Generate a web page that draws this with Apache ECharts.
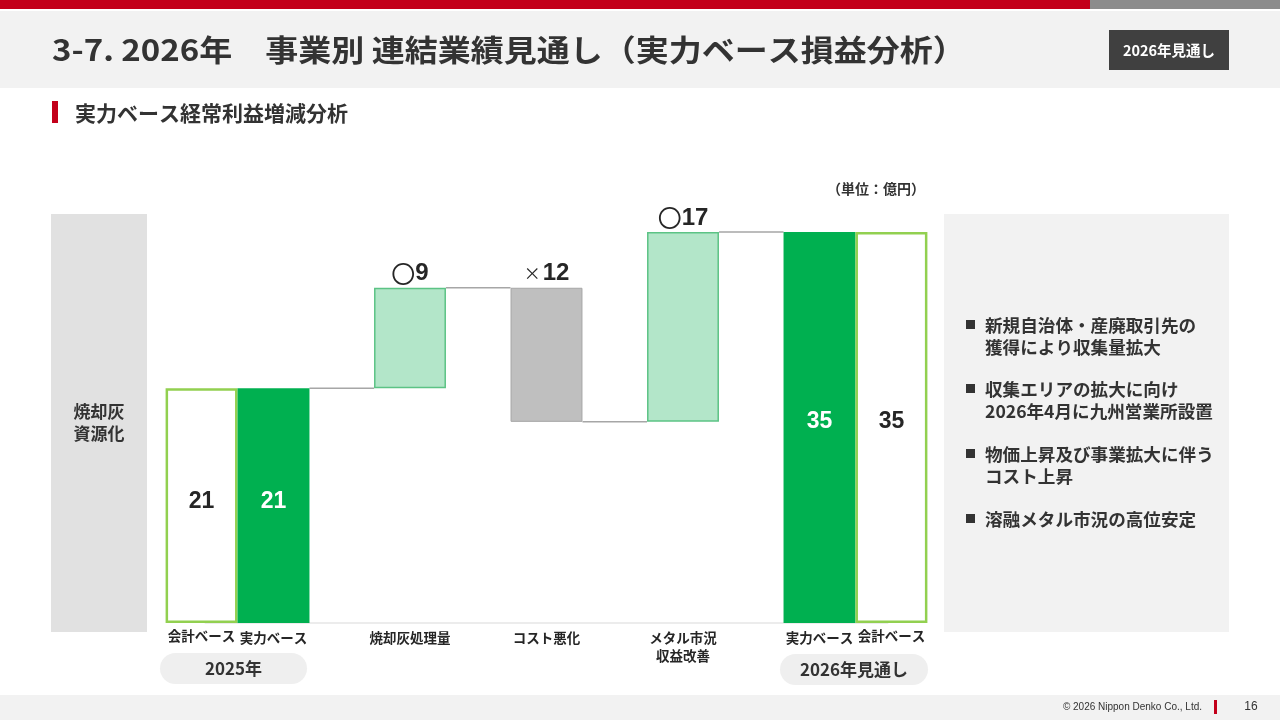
<!DOCTYPE html>
<html>
<head>
<meta charset="utf-8">
<script src="https://cdn.jsdelivr.net/npm/echarts@6/dist/echarts.min.js"></script>
<style>
html,body{margin:0;padding:0;background:#fff;}
#chart{width:1280px;height:720px;}
</style>
</head>
<body>
<div id="chart"></div>
<script>
// ---- data ----
const categories = ['実力ベース', '焼却灰処理量', 'コスト悪化', 'メタル市況\n収益改善', '実力ベース'];
const accountingLabel = '会計ベース';
const accounting2025 = 21;
const actual2025 = 21;
const deltas = [9, -12, 17];
const deltaMarks = ['〇', '×', '〇'];
const actual2026 = 35;
const accounting2026 = 35;
const periodLabels = ['2025年', '2026年見通し'];
const segmentLabel = '焼却灰\n資源化';
const unitLabel = '（単位：億円）';
const bullets = [
  '新規自治体・産廃取引先の\n獲得により収集量拡大',
  '収集エリアの拡大に向け\n2026年4月に九州営業所設置',
  '物価上昇及び事業拡大に伴う\nコスト上昇',
  '溶融メタル市況の高位安定'
];
const titleText = '3-7. 2026年　事業別 連結業績見通し（実力ベース損益分析）';
const subtitleText = '実力ベース経常利益増減分析';
const badgeText = '2026年見通し';
const footerText = '© 2026 Nippon Denko Co., Ltd.';
const pageNo = '16';

// ---- build waterfall items ----
const FONT = '"Liberation Sans", "Noto Sans CJK JP", sans-serif';
const JFONT = '"Noto Sans CJK JP", "Liberation Sans", sans-serif';
const barItems = [];
barItems.push({cat: 0, lo: 0, hi: accounting2025, kind: 'acct', side: -1, value: accounting2025});
barItems.push({cat: 0, lo: 0, hi: actual2025, kind: 'total', side: 0, value: actual2025});
const levels = [actual2025];
let run = actual2025;
deltas.forEach((d, k) => {
  const next = run + d;
  barItems.push({cat: k + 1, lo: Math.min(run, next), hi: Math.max(run, next), kind: d >= 0 ? 'up' : 'down', side: 0, value: Math.abs(d), mark: deltaMarks[k]});
  run = next;
  levels.push(run);
});
barItems.push({cat: 4, lo: 0, hi: actual2026, kind: 'total', side: 0, value: actual2026});
barItems.push({cat: 4, lo: 0, hi: accounting2026, kind: 'acct', side: 1, value: accounting2026});

const BAR_RATIO = 0.527;
const styles = {
  acct:  {fill: '#ffffff', stroke: '#92d050', lineWidth: 2.5, text: '#262626'},
  total: {fill: '#00b050', stroke: null, lineWidth: 0, text: '#ffffff'},
  up:    {fill: '#b3e6c9', stroke: '#5cc385', lineWidth: 1.5, text: '#262626'},
  down:  {fill: '#bfbfbf', stroke: '#a6a6a6', lineWidth: 1, text: '#262626'}
};

function renderBar(params, api) {
  const it = barItems[params.dataIndex];
  const step = api.size([1, 0])[0];
  const bw = step * BAR_RATIO;
  const pLo = api.coord([api.value(0), api.value(1)]);
  const pHi = api.coord([api.value(0), api.value(2)]);
  const cx = pLo[0] + it.side * bw;
  const x = cx - bw / 2;
  const st = styles[it.kind];
  const children = [];
  const inset = st.stroke ? st.lineWidth / 2 : 0;
  children.push({
    type: 'rect',
    shape: {x: x + inset, y: pHi[1] + inset, width: bw - 2 * inset, height: pLo[1] - pHi[1] - 2 * inset},
    style: {fill: st.fill, stroke: st.stroke || 'none', lineWidth: st.lineWidth}
  });
  if (it.kind === 'acct' || it.kind === 'total') {
    children.push({
      type: 'text',
      style: {x: cx, y: pLo[1] - 0.515 * (pLo[1] - pHi[1]), text: String(it.value), fill: st.text, font: 'bold 23px ' + FONT, align: 'center', verticalAlign: 'middle'}
    });
  } else {
    const isCircle = it.mark === '〇';
    children.push({
      type: 'text',
      style: {
        x: cx, y: pHi[1] - 2, align: 'center', verticalAlign: 'bottom',
        text: '{m|' + it.mark + '}{n|' + it.value + '}',
        rich: {
          m: {fontFamily: JFONT, fontWeight: 'normal', fontSize: isCircle ? 24 : 17, fill: '#262626', padding: [0, isCircle ? 0 : 2, isCircle ? 0 : 1, 0]},
          n: {fontFamily: FONT, fontWeight: 'bold', fontSize: 24, fill: '#262626'}
        }
      }
    });
  }
  if (it.kind === 'acct') {
    children.push({
      type: 'text',
      style: {x: cx, y: pLo[1] + 6, text: accountingLabel, fill: '#262626', font: 'bold 13.5px ' + JFONT, align: 'center', verticalAlign: 'top'}
    });
  }
  return {type: 'group', children: children};
}

const connectorData = levels.map((v, i) => [i, v]);
function renderConnector(params, api) {
  const i = api.value(0), v = api.value(1);
  const step = api.size([1, 0])[0];
  const bw = step * BAR_RATIO;
  const a = api.coord([i, v]);
  const b = api.coord([i + 1, v]);
  return {
    type: 'line',
    shape: {x1: a[0] + bw / 2, y1: a[1], x2: b[0] - bw / 2, y2: b[1]},
    style: {stroke: '#a6a6a6', lineWidth: 1.5}
  };
}

// ---- decorations ----
const graphics = [
  {type: 'rect', shape: {x: 0, y: 0, width: 1090, height: 9}, style: {fill: '#c3001a'}},
  {type: 'rect', shape: {x: 1090, y: 0, width: 190, height: 9}, style: {fill: '#8c8c8c'}},
  {type: 'rect', shape: {x: 0, y: 11, width: 1280, height: 77}, style: {fill: '#f2f2f2'}},
  {type: 'text', x: 52, y: 50, scaleX: 1.1, style: {x: 0, y: 0, text: titleText, fill: '#333333', font: 'bold 30px ' + JFONT, verticalAlign: 'middle'}},
  {type: 'rect', shape: {x: 1109, y: 30, width: 120, height: 40}, style: {fill: '#404040'}},
  {type: 'text', style: {x: 1169, y: 50, text: badgeText, fill: '#ffffff', font: 'bold 14.5px ' + JFONT, align: 'center', verticalAlign: 'middle'}},
  {type: 'rect', shape: {x: 52, y: 101, width: 6, height: 22}, style: {fill: '#c3001a'}},
  {type: 'text', style: {x: 75, y: 113, text: subtitleText, fill: '#333333', font: 'bold 21px ' + JFONT, verticalAlign: 'middle'}},
  {type: 'rect', shape: {x: 51, y: 214, width: 96, height: 418}, style: {fill: '#e1e1e1'}, z: -10},
  {type: 'text', style: {x: 99, y: 423, text: segmentLabel, fill: '#333333', font: 'bold 17px ' + JFONT, lineHeight: 22, align: 'center', verticalAlign: 'middle'}},
  {type: 'rect', shape: {x: 944, y: 214, width: 285, height: 418}, style: {fill: '#f2f2f2'}, z: -10},
  {type: 'text', style: {x: 925, y: 189, text: unitLabel, fill: '#333333', font: 'bold 14px ' + JFONT, align: 'right', verticalAlign: 'middle'}},
  {type: 'rect', shape: {x: 160, y: 653, width: 147, height: 31, r: 15.5}, style: {fill: '#efefef'}},
  {type: 'text', style: {x: 233.5, y: 668.5, text: periodLabels[0], fill: '#333333', font: 'bold 17px ' + JFONT, align: 'center', verticalAlign: 'middle'}},
  {type: 'rect', shape: {x: 780, y: 654, width: 148, height: 31, r: 15.5}, style: {fill: '#efefef'}},
  {type: 'text', style: {x: 854, y: 669.5, text: periodLabels[1], fill: '#333333', font: 'bold 17px ' + JFONT, align: 'center', verticalAlign: 'middle'}},
  {type: 'rect', shape: {x: 0, y: 695, width: 1280, height: 25}, style: {fill: '#f2f2f2'}},
  {type: 'text', style: {x: 1202, y: 707, text: footerText, fill: '#333333', font: '10px ' + FONT, align: 'right', verticalAlign: 'middle'}},
  {type: 'rect', shape: {x: 1214, y: 700, width: 3, height: 14}, style: {fill: '#c3001a'}},
  {type: 'text', style: {x: 1251, y: 707, text: pageNo, fill: '#333333', font: '12px ' + FONT, align: 'center', verticalAlign: 'middle'}}
];
const bulletTops = [314, 378, 443, 508];
bullets.forEach((b, i) => {
  graphics.push({type: 'rect', shape: {x: 966, y: bulletTops[i] + 6, width: 9, height: 9}, style: {fill: '#333333'}});
  graphics.push({type: 'text', style: {x: 985, y: bulletTops[i], text: b, fill: '#333333', font: 'bold 17.6px ' + JFONT, lineHeight: 22, verticalAlign: 'top'}});
});

const chart = echarts.init(document.getElementById('chart'));
chart.setOption({
  backgroundColor: '#ffffff',
  animation: false,
  grid: {left: 205.25, right: 392.25, top: 176, bottom: 97},
  xAxis: {
    type: 'category',
    data: categories,
    axisTick: {show: false},
    axisLine: {lineStyle: {color: '#e6e6e6', width: 1.5}},
    axisLabel: {color: '#262626', fontWeight: 'bold', fontSize: 13.5, fontFamily: JFONT, margin: 6, lineHeight: 18, interval: 0}
  },
  yAxis: {type: 'value', min: 0, max: 40, show: false},
  graphic: graphics,
  series: [
    {type: 'custom', renderItem: renderConnector, data: connectorData, clip: false, z: 1},
    {type: 'custom', renderItem: renderBar, data: barItems.map(b => [b.cat, b.lo, b.hi]), clip: false, z: 2}
  ]
});
</script>
</body>
</html>
